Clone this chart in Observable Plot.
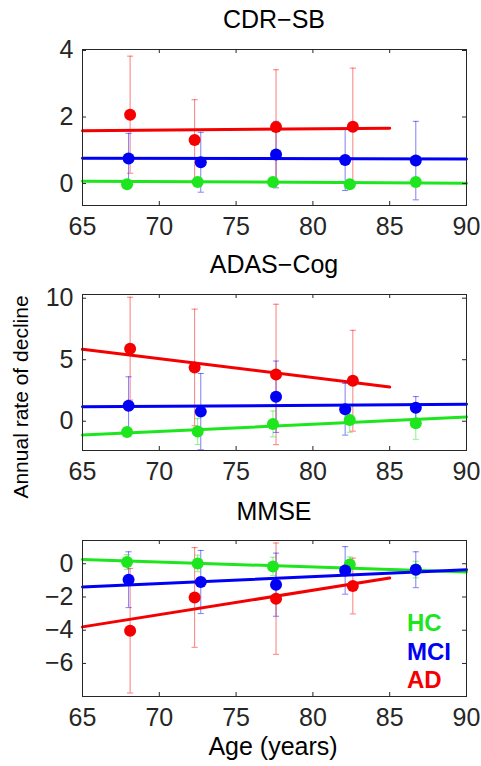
<!DOCTYPE html>
<html><head><meta charset="utf-8">
<script src="https://cdn.jsdelivr.net/npm/d3@7"></script>
<script src="https://cdn.jsdelivr.net/npm/@observablehq/plot@0.6"></script>
<style>
body{margin:0;background:#fff;}
#wrap{position:relative;width:481px;height:766px;font-family:"Liberation Sans",Arial,sans-serif;overflow:hidden;}
.panel{position:absolute;left:0;}
#overlay{position:absolute;left:0;top:0;pointer-events:none;}
</style></head><body><div id="wrap"></div>
<script>
// ---------- data ----------
const groups = ["HC", "MCI", "AD"];
const groupColors = ["#1ee61e", "#0000f5", "#f50000"];
const titles = ["CDR−SB", "ADAS−Cog", "MMSE"];
const xTicks = [65, 70, 75, 80, 85, 90];

const ageHC = [67.9, 72.5, 77.4, 82.4, 86.7];
const ageMCI = [68.0, 72.7, 77.6, 82.1, 86.7];
const ageAD = [68.1, 72.3, 77.6, 82.6];
const fitAgeHC = [65, 90];
const fitAgeMCI = [65, 90];
const fitAgeAD = [65, 85];

// CDR-SB
const cdrHC = [-0.02, 0.05, 0.05, -0.02, 0.05];
const cdrHCerr = [0.08, 0.08, 0.08, 0.08, 0.1];
const cdrMCI = [0.75, 0.64, 0.87, 0.71, 0.69];
const cdrMCIerr = [0.76, 0.9, 1.0, 0.92, 1.18];
const cdrAD = [2.07, 1.31, 1.70, 1.71];
const cdrADerr = [1.76, 1.21, 1.72, 1.76];
const cdrFitHC = [0.07, 0.01];
const cdrFitMCI = [0.76, 0.74];
const cdrFitAD = [1.59, 1.66];
const cdrYDomain = [-0.66, 4.03];
const cdrYTicks = [0, 2, 4];

// ADAS-Cog
const adasHC = [-0.87, -0.84, -0.22, 0.10, -0.17];
const adasHCerr = [0.3, 1.05, 1.05, 1.0, 1.3];
const adasMCI = [1.26, 0.78, 1.99, 0.97, 1.10];
const adasMCIerr = [2.35, 3.1, 2.9, 2.1, 0.9];
const adasAD = [5.90, 4.37, 3.80, 3.29];
const adasADerr = [4.18, 4.74, 5.71, 4.10];
const adasFitHC = [-1.13, 0.35];
const adasFitMCI = [1.18, 1.37];
const adasFitAD = [5.85, 2.78];
const adasYDomain = [-2.38, 10.3];
const adasYTicks = [0, 5, 10];

// MMSE
const mmseHC = [0.10, 0.02, -0.16, -0.04, -0.35];
const mmseHCerr = [0.45, 0.5, 0.55, 0.45, 0.5];
const mmseMCI = [-0.96, -1.10, -1.26, -0.40, -0.36];
const mmseMCIerr = [1.68, 1.9, 1.9, 1.43, 1.08];
const mmseAD = [-4.03, -2.03, -2.10, -1.34];
const mmseADerr = [3.75, 3.0, 3.35, 1.68];
const mmseFitHC = [0.26, -0.50];
const mmseFitMCI = [-1.40, -0.36];
const mmseFitAD = [-3.80, -0.86];
const mmseYDomain = [-7.99, 1.4];
const mmseYTicks = [-6, -4, -2, 0];

// ---------- build ----------
function rows(ages, means, errs, group) {
  return ages.map((a, i) => ({group, age: a, mean: means[i], lo: means[i] - errs[i], hi: means[i] + errs[i]}));
}
function fitRows(ages, vals, group) {
  return ages.map((a, i) => ({group, age: a, value: vals[i]}));
}

const panels = [
  {title: titles[0], top: 39, yDomain: cdrYDomain, yTicks: cdrYTicks,
   pts: [...rows(ageHC, cdrHC, cdrHCerr, "HC"), ...rows(ageMCI, cdrMCI, cdrMCIerr, "MCI"), ...rows(ageAD, cdrAD, cdrADerr, "AD")],
   fits: [...fitRows(fitAgeHC, cdrFitHC, "HC"), ...fitRows(fitAgeMCI, cdrFitMCI, "MCI"), ...fitRows(fitAgeAD, cdrFitAD, "AD")]},
  {title: titles[1], top: 284, yDomain: adasYDomain, yTicks: adasYTicks,
   pts: [...rows(ageHC, adasHC, adasHCerr, "HC"), ...rows(ageMCI, adasMCI, adasMCIerr, "MCI"), ...rows(ageAD, adasAD, adasADerr, "AD")],
   fits: [...fitRows(fitAgeHC, adasFitHC, "HC"), ...fitRows(fitAgeMCI, adasFitMCI, "MCI"), ...fitRows(fitAgeAD, adasFitAD, "AD")]},
  {title: titles[2], top: 530, yDomain: mmseYDomain, yTicks: mmseYTicks,
   pts: [...rows(ageHC, mmseHC, mmseHCerr, "HC"), ...rows(ageMCI, mmseMCI, mmseMCIerr, "MCI"), ...rows(ageAD, mmseAD, mmseADerr, "AD")],
   fits: [...fitRows(fitAgeHC, mmseFitHC, "HC"), ...fitRows(fitAgeMCI, mmseFitMCI, "MCI"), ...fitRows(fitAgeAD, mmseFitAD, "AD")]}
];

const wrap = document.getElementById("wrap");
const axisColor = "#262626";
const capHalf = 0.2;
const W = 481, H = 206, ML = 82, MR = 15, MT = 10, MB = 40;
const frameW = W - ML - MR, frameH = H - MT - MB, tickLen = 4;

panels.forEach(p => {
  const chart = Plot.plot({
    width: W, height: H,
    marginLeft: ML, marginRight: MR, marginTop: MT, marginBottom: MB,
    x: {domain: [65, 90]},
    y: {domain: p.yDomain},
    color: {domain: groups, range: groupColors},
    style: {fontFamily: '"Liberation Sans", Arial, sans-serif', fontSize: "25px", color: axisColor, background: "transparent", overflow: "visible"},
    marks: [
      Plot.ruleX(p.pts, {x: "age", y1: "lo", y2: "hi", stroke: "group", strokeOpacity: 0.5, strokeWidth: 1}),
      Plot.link(p.pts, {x1: d => d.age - capHalf, x2: d => d.age + capHalf, y1: "lo", y2: "lo", stroke: "group", strokeOpacity: 0.5, strokeWidth: 1}),
      Plot.link(p.pts, {x1: d => d.age - capHalf, x2: d => d.age + capHalf, y1: "hi", y2: "hi", stroke: "group", strokeOpacity: 0.5, strokeWidth: 1}),
      Plot.line(p.fits, {x: "age", y: "value", z: "group", stroke: "group", strokeWidth: 3}),
      Plot.dot(p.pts, {x: "age", y: "mean", fill: "group", r: 6}),
      // inward tick marks on all four sides
      Plot.tickX(xTicks, {x: d => d, insetTop: frameH - tickLen, stroke: axisColor}),
      Plot.tickX(xTicks, {x: d => d, insetBottom: frameH - tickLen, stroke: axisColor}),
      Plot.tickY(p.yTicks, {y: d => d, insetRight: frameW - tickLen, stroke: axisColor}),
      Plot.tickY(p.yTicks, {y: d => d, insetLeft: frameW - tickLen, stroke: axisColor}),
      Plot.frame({stroke: axisColor, strokeWidth: 1}),
      Plot.axisX({anchor: "bottom", ticks: xTicks, tickSize: 0, tickPadding: 12, label: null, fontSize: 25, fill: axisColor, tickFormat: d3.format("d")}),
      Plot.axisY({anchor: "left", ticks: p.yTicks, tickSize: 0, tickPadding: 9, label: null, fontSize: 25, fill: axisColor, tickFormat: d3.format("d")})
    ]
  });
  chart.classList.add("panel");
  chart.style.top = p.top + "px";
  wrap.appendChild(chart);
});

// ---------- overlay text ----------
const ov = d3.select(wrap).append("svg").attr("id", "overlay").attr("width", 481).attr("height", 766)
  .style("font-family", '"Liberation Sans", Arial, sans-serif');
const titleBaselines = [28, 273, 520];
titles.forEach((t, i) => {
  ov.append("text").attr("x", 274).attr("y", titleBaselines[i]).attr("text-anchor", "middle")
    .attr("font-size", 25).attr("fill", "#000").text(t);
});
ov.append("text").attr("transform", "translate(28,397) rotate(-90)").attr("text-anchor", "middle")
  .attr("font-size", 21).attr("fill", "#000").text("Annual rate of decline");
ov.append("text").attr("x", 273).attr("y", 755).attr("text-anchor", "middle")
  .attr("font-size", 25).attr("fill", "#000").text("Age (years)");
const legendBaselines = [631, 660, 688];
groups.forEach((g, i) => {
  ov.append("text").attr("x", 407).attr("y", legendBaselines[i]).attr("font-size", 24)
    .attr("font-weight", "bold").attr("fill", groupColors[i]).text(g);
});
</script>
</body></html>
